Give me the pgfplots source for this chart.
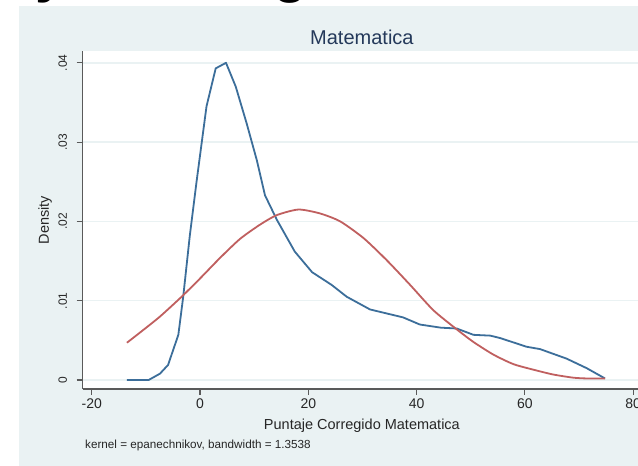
\documentclass[border=0pt]{standalone}
\usepackage{pgfplots}
\pgfplotsset{compat=1.18}
\usepackage{fontspec}
\setmainfont{Liberation Sans}

\definecolor{bgbluish}{HTML}{EAF2F3}
\definecolor{kblue}{HTML}{3C6E9A}
\definecolor{kred}{HTML}{C05F5F}
\definecolor{spine}{HTML}{5A5A5A}
\definecolor{titlenavy}{HTML}{24395A}

\begin{document}
\raisebox{0pt}[466pt][0pt]{%
\begin{tikzpicture}[baseline={(0pt,0pt)}, trim left=0pt, trim right=638pt]
% graph region
\fill[bgbluish] (19pt,0pt) rectangle (638pt,460pt);
% bits of a heading cut off above the chart
\node[anchor=base west, inner sep=0pt, font=\fontsize{56}{60}\selectfont\bfseries] at (35pt,474pt) {y};
\node[anchor=base west, inner sep=0pt, font=\fontsize{56}{60}\selectfont\bfseries] at (273pt,474pt) {g};

\begin{axis}[
  scale only axis, width=558.8pt, height=338pt,
  at={(82.5pt,77pt)}, anchor=south west,
  xmin=-21.7, xmax=81.5, ymin=-0.00113, ymax=0.04149,
  axis x line*=bottom, axis y line*=left,
  axis line style={draw=spine, line width=1.5pt},
  every outer x axis line/.append style={-},
  every outer y axis line/.append style={-},
  every inner x axis line/.append style={-},
  every inner y axis line/.append style={-},
  axis background/.style={fill=white},
  xtick={-20,0,20,40,60,80},
  ytick={0,0.01,0.02,0.03,0.04},
  yticklabels={0,.01,.02,.03,.04},
  scaled y ticks=false,
  tick align=outside, major tick length=6pt,
  tick style={draw=spine, line width=1.2pt},
  ymajorgrids, grid style={draw=bgbluish, line width=1.4pt},
  /pgf/number format/assume math mode=true,
  xticklabel style={font=\fontsize{14}{16}\selectfont, text=black!85},
  yticklabel style={font=\fontsize{12}{14}\selectfont, text=black!85, rotate=90, anchor=south},
  yticklabel shift=6pt,
  title={Matematica},
  every axis title/.style={at={(axis description cs:0.5,1.0414)}, anchor=center,
    font=\fontsize{20}{24}\selectfont, text=titlenavy},
  xlabel={Puntaje Corregido Matematica},
  every axis x label/.style={at={(axis description cs:0.5,-0.1095)}, anchor=center,
    font=\fontsize{14.5}{17}\selectfont, text=black!85},
  ylabel={Density},
  every axis y label/.style={at={(axis description cs:-0.0671,0.5)}, rotate=90, anchor=center,
    font=\fontsize{14.5}{17}\selectfont, text=black!85},
]
% kernel density, Puntaje Corregido Matematica
\addplot[kblue, line width=1.8pt, line join=round] coordinates {
  (-13.5,0) (-9.5,0) (-7.4,0.0008) (-5.9,0.0019) (-4.0,0.0057) (-3.1,0.0105)
  (-1.9,0.0181) (-0.6,0.0252) (1.2,0.0345) (2.9,0.0393) (4.8,0.0400) (6.6,0.0370)
  (8.6,0.0324) (10.5,0.0277) (12.0,0.0233) (14.2,0.0202) (17.5,0.0162) (20.7,0.0136)
  (24.3,0.0120) (27.1,0.0105) (31.4,0.0089) (37.5,0.0079) (40.6,0.0070) (44.5,0.0066)
  (47.4,0.0065) (50.5,0.0057) (53.6,0.0056) (55.4,0.0053) (60.3,0.0042) (62.8,0.0039)
  (67.7,0.0027) (71.4,0.0015) (74.8,0.0002)
};
% normal density
\addplot[kred, line width=1.8pt, smooth, tension=0.4] coordinates {
  (-13.5,0.0047) (-10.5,0.0063) (-7.4,0.0080) (-3.4,0.0105) (0,0.0128) (3.7,0.0154)
  (7.4,0.0178) (11.1,0.0196) (14.2,0.0208) (18.2,0.0215) (22.2,0.0210) (25.9,0.0200)
  (30.2,0.0179) (34.5,0.0151) (38.8,0.0120) (43.1,0.0088) (47.4,0.0064) (50.5,0.0048)
  (54.2,0.0032) (57.9,0.0020) (61.6,0.0013) (65.2,0.0007) (68.9,0.0003) (71.4,0.0002)
  (74.8,0.0002)
};
\end{axis}

\node[anchor=west, inner sep=0pt, font=\fontsize{11.7}{14}\selectfont, text=black!85]
  at (85pt,21pt) {kernel = epanechnikov, bandwidth = 1.3538};
\end{tikzpicture}}
\end{document}
